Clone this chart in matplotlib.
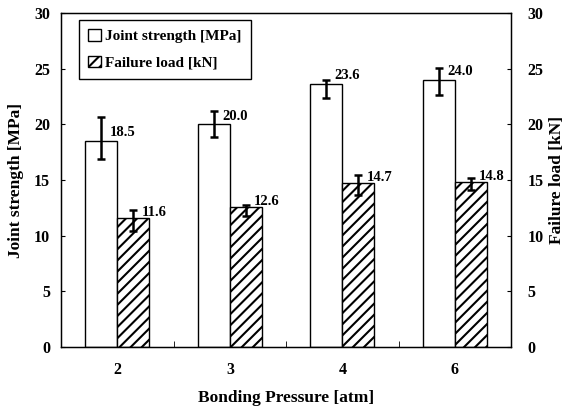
import matplotlib
matplotlib.use("Agg")
import matplotlib.pyplot as plt
import numpy as np

categories = ["2", "3", "4", "6"]
joint_strength = [18.5, 20.0, 23.6, 24.0]
joint_err_low = [1.6, 1.1, 1.2, 1.4]
joint_err_high = [2.2, 1.2, 0.4, 1.1]
failure_load = [11.6, 12.6, 14.7, 14.8]
failure_err_low = [1.2, 0.8, 1.0, 0.7]
failure_err_high = [0.7, 0.2, 0.8, 0.4]
yticks = [0, 5, 10, 15, 20, 25, 30]

plt.rcParams['font.family'] = ['Liberation Serif', 'DejaVu Serif']
plt.rcParams['font.weight'] = 'bold'
plt.rcParams['hatch.linewidth'] = 1.5

fig = plt.figure(figsize=(5.66, 4.07), dpi=100)
ax = fig.add_axes([0.108, 0.147, 0.795, 0.821])

x = np.arange(len(categories))
w = 0.285
ekw = dict(elinewidth=1.8, capthick=1.8, capsize=3, ecolor='black')
b1 = ax.bar(x - w/2, joint_strength, w, color='white', edgecolor='black', linewidth=1.0,
            yerr=[joint_err_low, joint_err_high], error_kw=ekw, label='Joint strength [MPa]')
b2 = ax.bar(x + w/2, failure_load, w, color='white', edgecolor='black', linewidth=1.0,
            hatch='///', yerr=[failure_err_low, failure_err_high], error_kw=ekw,
            label='Failure load [kN]')

for xi, v in zip(x - w/2, joint_strength):
    ax.annotate(f"{v:.1f}", (xi, v), xytext=(6, 6), textcoords='offset points',
                ha='left', va='center', fontsize=10.5, fontweight='bold')
for xi, v in zip(x + w/2, failure_load):
    ax.annotate(f"{v:.1f}", (xi, v), xytext=(6, 4), textcoords='offset points',
                ha='left', va='center', fontsize=10.5, fontweight='bold')

ax.set_xlim(-0.5, len(categories) - 0.5)
ax.set_ylim(0, 30)
ax.set_yticks(yticks)
ax.set_xticks(x)
ax.set_xticklabels(categories)
ax.set_xticks([0.5, 1.5, 2.5], minor=True)
ax.tick_params(axis='x', which='major', length=0, pad=11, labelsize=11.5)
ax.tick_params(axis='x', which='minor', length=4, direction='in')
ax.tick_params(axis='y', direction='in', length=3, labelsize=11.5, pad=8)
for s in ax.spines.values():
    s.set_linewidth(1.0)

ax.set_xlabel("Bonding Pressure [atm]", fontsize=12.5, fontweight='bold', labelpad=8)
ax.set_ylabel("Joint strength [MPa]", fontsize=12.5, fontweight='bold', labelpad=7)

ax2 = ax.twinx()
ax2.set_ylim(0, 30)
ax2.set_yticks(yticks)
ax2.tick_params(axis='y', direction='in', length=3, labelsize=11.5, pad=12)
ax2.set_ylabel("Failure load [kN]", fontsize=12.5, fontweight='bold', labelpad=4)

leg = ax.legend(loc='upper left', bbox_to_anchor=(0.04, 0.979), borderaxespad=0,
                fontsize=11, handlelength=0.8, handleheight=0.8, handletextpad=0.3,
                fancybox=False, edgecolor='black', framealpha=1,
                borderpad=0.6, labelspacing=0.8)
leg.get_frame().set_linewidth(1.0)

fig.savefig("out.png", dpi=100)
